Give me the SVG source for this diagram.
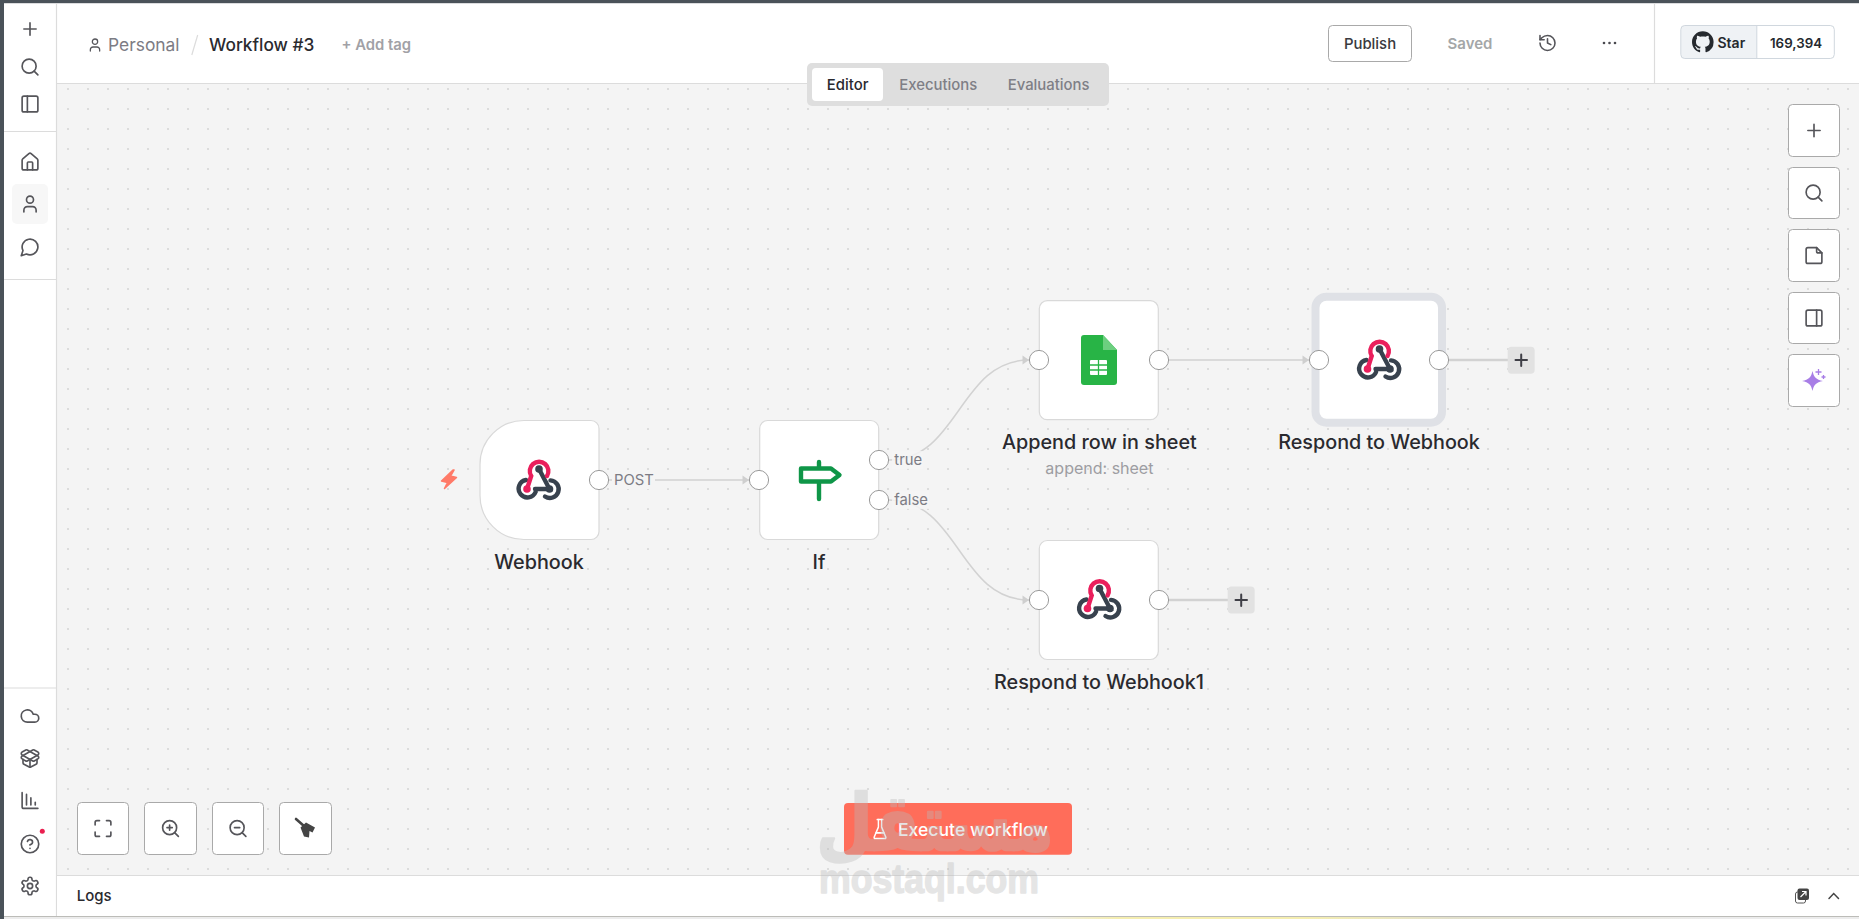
<svg xmlns="http://www.w3.org/2000/svg" width="1859" height="919" viewBox="0 0 1859 919">
<style>
text{font-family:Inter,"Noto Sans","Liberation Sans",sans-serif}
.ic{fill:none;stroke:#55555a;stroke-width:1.9;stroke-linecap:round;stroke-linejoin:round}
.sep{stroke:#dcdcdc;stroke-width:1.2;fill:none}
.tb{fill:#fff;stroke:#a9a9a9;stroke-width:1}
.node{fill:#fff;stroke:#d9d9d9;stroke-width:1.2}
.port{fill:#fff;stroke:#9a9a9a;stroke-width:1}
.lbl{font-size:19.8px;font-weight:500;fill:#2a2a2f;text-anchor:middle}
.tab{font-size:14.9px;font-weight:500;fill:#7f7f86}
.elbl{font-size:14.8px;fill:#7c7c84}
.edge{fill:none;stroke:#d2d2d2;stroke-width:1.5}
.stub{fill:none;stroke:#d2d2d2;stroke-width:2.4}
.addb{fill:#e2e2e2}
.addp{fill:none;stroke:#3f3f46;stroke-width:2;stroke-linecap:round}
.pk{fill:none;stroke:#ea1f5c;stroke-width:4.4;stroke-linecap:round}
.dk{fill:none;stroke:#38424e;stroke-width:4.4;stroke-linecap:round}
</style>
<defs>
<pattern id="dots" patternUnits="userSpaceOnUse" x="58" y="79" width="20" height="20"><circle cx="10" cy="10" r=".8" fill="#bcbcbc"/></pattern>
<linearGradient id="stripe" x1="0" x2="1" y1="0" y2="0"><stop offset="0" stop-color="#ececec"/><stop offset=".56" stop-color="#ececec"/><stop offset=".6" stop-color="#f5eeb0"/><stop offset=".7" stop-color="#f5eeb0"/><stop offset=".78" stop-color="#e2e0cc"/><stop offset=".92" stop-color="#ececec"/></linearGradient>
<marker id="arr" markerUnits="userSpaceOnUse" markerWidth="8" markerHeight="10" refX="7" refY="5" orient="auto"><path d="M0.5,0.5 L7,5 L0.5,9.5 Z" fill="#cfcfcf"/></marker>
<symbol id="i-plus" viewBox="0 0 24 24"><path class="ic" d="M5 12h14M12 5v14"/></symbol>
<symbol id="i-search" viewBox="0 0 24 24"><circle class="ic" cx="11" cy="11" r="8"/><path class="ic" d="M21 21l-4.3-4.3"/></symbol>
<symbol id="i-pl" viewBox="0 0 24 24"><rect class="ic" x="3" y="3" width="18" height="18" rx="2"/><path class="ic" d="M9 3v18"/></symbol>
<symbol id="i-pr" viewBox="0 0 24 24"><rect class="ic" x="3" y="3" width="18" height="18" rx="2"/><path class="ic" d="M15 3v18"/></symbol>
<symbol id="i-home" viewBox="0 0 24 24"><path class="ic" d="M15 21v-8a1 1 0 0 0-1-1h-4a1 1 0 0 0-1 1v8"/><path class="ic" d="M3 10a2 2 0 0 1 .709-1.528l7-5.999a2 2 0 0 1 2.582 0l7 5.999A2 2 0 0 1 21 10v9a2 2 0 0 1-2 2H5a2 2 0 0 1-2-2z"/></symbol>
<symbol id="i-user" viewBox="0 0 24 24"><path class="ic" d="M19 21v-2a4 4 0 0 0-4-4H9a4 4 0 0 0-4 4v2"/><circle class="ic" cx="12" cy="7" r="4"/></symbol>
<symbol id="i-chat" viewBox="0 0 24 24"><path class="ic" d="M7.9 20A9 9 0 1 0 4 16.1L2 22Z"/></symbol>
<symbol id="i-cloud" viewBox="0 0 24 24"><path class="ic" d="M17.5 19H9a7 7 0 1 1 6.71-9h1.79a4.5 4.5 0 1 1 0 9Z"/></symbol>
<symbol id="i-box" viewBox="0 0 24 24"><path class="ic" d="M12 22v-9"/><path class="ic" d="M15.17 2.21a1.67 1.67 0 0 1 1.63 0L21 4.57a1.93 1.93 0 0 1 0 3.36L8.82 14.79a1.655 1.655 0 0 1-1.64 0L3 12.43a1.93 1.93 0 0 1 0-3.36z"/><path class="ic" d="M20 13v3.87a2.06 2.06 0 0 1-1.11 1.83l-6 3.08a1.93 1.93 0 0 1-1.78 0l-6-3.08A2.06 2.06 0 0 1 4 16.87V13"/><path class="ic" d="M21 12.43a1.93 1.93 0 0 0 0-3.36L8.83 2.2a1.64 1.64 0 0 0-1.63 0L3 4.57a1.93 1.93 0 0 0 0 3.36l12.18 6.86a1.636 1.636 0 0 0 1.63 0z"/></symbol>
<symbol id="i-chart" viewBox="0 0 24 24"><path class="ic" d="M3 3v16a2 2 0 0 0 2 2h16M8 17V5M13 17V9M18 17v-3"/></symbol>
<symbol id="i-help" viewBox="0 0 24 24"><circle class="ic" cx="12" cy="12" r="10"/><path class="ic" d="M9.09 9a3 3 0 0 1 5.83 1c0 2-3 3-3 3M12 17h.01"/></symbol>
<symbol id="i-gear" viewBox="0 0 24 24"><path class="ic" d="M12.22 2h-.44a2 2 0 0 0-2 2v.18a2 2 0 0 1-1 1.73l-.43.25a2 2 0 0 1-2 0l-.15-.08a2 2 0 0 0-2.73.73l-.22.38a2 2 0 0 0 .73 2.73l.15.1a2 2 0 0 1 1 1.72v.51a2 2 0 0 1-1 1.74l-.15.09a2 2 0 0 0-.73 2.73l.22.38a2 2 0 0 0 2.73.73l.15-.08a2 2 0 0 1 2 0l.43.25a2 2 0 0 1 1 1.73V20a2 2 0 0 0 2 2h.44a2 2 0 0 0 2-2v-.18a2 2 0 0 1 1-1.73l.43-.25a2 2 0 0 1 2 0l.15.08a2 2 0 0 0 2.73-.73l.22-.39a2 2 0 0 0-.73-2.73l-.15-.08a2 2 0 0 1-1-1.74v-.5a2 2 0 0 1 1-1.74l.15-.09a2 2 0 0 0 .73-2.73l-.22-.38a2 2 0 0 0-2.73-.73l-.15.08a2 2 0 0 1-2 0l-.43-.25a2 2 0 0 1-1-1.73V4a2 2 0 0 0-2-2z"/><circle class="ic" cx="12" cy="12" r="3"/></symbol>
<symbol id="i-hist" viewBox="0 0 24 24"><path class="ic" d="M3 12a9 9 0 1 0 9-9 9.75 9.75 0 0 0-6.74 2.74L3 8"/><path class="ic" d="M3 3v5h5M12 7v5l4 2"/></symbol>
<symbol id="i-note" viewBox="0 0 24 24"><path class="ic" d="M15 3H5a2 2 0 0 0-2 2v14a2 2 0 0 0 2 2h14a2 2 0 0 0 2-2V9Z"/><path class="ic" d="M15 3v4a2 2 0 0 0 2 2h4"/></symbol>
<symbol id="i-max" viewBox="0 0 24 24"><path class="ic" d="M8 3H5a2 2 0 0 0-2 2v3M21 8V5a2 2 0 0 0-2-2h-3M3 16v3a2 2 0 0 0 2 2h3M16 21h3a2 2 0 0 0 2-2v-3"/></symbol>
<symbol id="i-zin" viewBox="0 0 24 24"><circle class="ic" cx="11" cy="11" r="8"/><path class="ic" d="M21 21l-4.3-4.3M11 8v6M8 11h6"/></symbol>
<symbol id="i-zout" viewBox="0 0 24 24"><circle class="ic" cx="11" cy="11" r="8"/><path class="ic" d="M21 21l-4.3-4.3M8 11h6"/></symbol>
<symbol id="i-hook" viewBox="-24 -24 48 48">
<path class="dk" d="M-13,0 A8.8,8.8 0 1 0 -3.4,12"/>
<path class="dk" d="M6,16.5 A8.8,8.8 0 1 0 11.5,0.4"/>
<path class="dk" d="M0,-11 L10.5,9 L-4,9"/>
<circle cx="0" cy="-11" r="3.8" fill="#38424e"/><circle cx="10.5" cy="9" r="3.8" fill="#38424e"/>
<path class="pk" d="M8,-4 A9.3,9.3 0 1 0 -7.8,-4 L-12,9"/>
<circle cx="-12" cy="9" r="3.8" fill="#ea1f5c"/>
</symbol>
</defs>

<rect width="1859" height="919" fill="#fff"/>
<g id="canvas"><rect x="57" y="84" width="1802" height="791" fill="#f4f4f4"/><rect x="57" y="84" width="1802" height="791" fill="url(#dots)"/></g>

<g id="window-edge"><rect x="0" y="0" width="1859" height="3.2" fill="#4a5259"/><rect x="0" y="0" width="4" height="919" fill="#4a5259"/><rect x="4" y="917" width="1855" height="2" fill="url(#stripe)"/><rect x="4" y="916" width="1855" height="1" fill="#bcbcb8"/></g>

<g id="sidebar">
<path class="sep" d="M56.500,3V916M4,131.500H56.500M4,279.500H56.500M4,688H56.500"/>
<rect x="12" y="184" width="36" height="40" rx="5" fill="#f7f7f7"/>
<use href="#i-plus" x="19.500" y="18.500" width="21" height="21"/>
<use href="#i-search" x="19.500" y="56.500" width="21" height="21"/>
<use href="#i-pl" x="19.500" y="93.500" width="21" height="21"/>
<use href="#i-home" x="19.500" y="151.500" width="21" height="21"/>
<use href="#i-user" x="19.500" y="193.500" width="21" height="21"/>
<use href="#i-chat" x="19.500" y="236.500" width="21" height="21"/>
<use href="#i-cloud" x="19.500" y="705.500" width="21" height="21"/>
<use href="#i-box" x="19.500" y="748" width="21" height="21"/>
<use href="#i-chart" x="19.500" y="790" width="21" height="21"/>
<use href="#i-help" x="19.500" y="833.500" width="21" height="21"/>
<circle cx="42.300" cy="831.300" r="2.500" fill="#ea1f4f"/>
<use href="#i-gear" x="19.500" y="875.500" width="21" height="21"/>
</g>

<g id="header">
<path class="sep" d="M57,83.500H1859M1654.500,3V83"/>
<use href="#i-user" x="87" y="37" width="16" height="16"/>
<text x="108" y="51" font-size="17.400" fill="#7c7c84">Personal</text>
<path d="M197.700,35L191.800,55" stroke="#dcdcdc" stroke-width="1.200"/>
<text x="209" y="51" font-size="17.300" font-weight="500" fill="#2a2a2f">Workflow #3</text>
<text x="341.500" y="50" font-size="14.800" font-weight="600" fill="#a1a1a6">+ Add tag</text>
<rect class="tb" x="1328.500" y="25.500" width="83" height="36" rx="4"/>
<text x="1370" y="49" font-size="14.900" font-weight="500" fill="#3a3a40" text-anchor="middle">Publish</text>
<text x="1470" y="49" font-size="15" font-weight="600" fill="#a4a7a8" text-anchor="middle">Saved</text>
<use href="#i-hist" x="1537.500" y="33" width="20" height="20"/>
<g fill="#4a4a4f"><circle cx="1604" cy="43" r="1.300"/><circle cx="1609.500" cy="43" r="1.300"/><circle cx="1615" cy="43" r="1.300"/></g>
<g id="github-star">
<path d="M1756.800,25.500H1685a4,4 0 0 0 -4,4V54.500a4,4 0 0 0 4,4H1756.800Z" fill="#eff2f5"/>
<rect x="1680.800" y="25.500" width="153.500" height="33" rx="4" fill="none" stroke="#d0d7de"/>
<path d="M1756.800,25.500V58.500" stroke="#d0d7de"/>
<path transform="translate(1692,31.200) scale(1.350)" fill="#25292e" d="M8 0C3.58 0 0 3.58 0 8c0 3.54 2.29 6.53 5.47 7.59.4.07.55-.17.55-.38 0-.19-.01-.82-.01-1.49-2.01.37-2.53-.49-2.69-.94-.09-.23-.48-.94-.82-1.13-.28-.15-.68-.52-.01-.53.63-.01 1.08.58 1.23.82.72 1.21 1.87.87 2.33.66.07-.52.28-.87.51-1.07-1.78-.2-3.64-.89-3.64-3.95 0-.87.31-1.59.82-2.15-.08-.2-.36-1.02.08-2.12 0 0 .67-.21 2.2.82.64-.18 1.32-.27 2-.27.68 0 1.36.09 2 .27 1.53-1.04 2.2-.82 2.2-.82.44 1.1.16 1.92.08 2.12.51.56.82 1.27.82 2.15 0 3.07-1.87 3.75-3.65 3.95.29.25.54.73.54 1.48 0 1.07-.01 1.93-.01 2.2 0 .21.15.46.55.38A8.013 8.013 0 0016 8c0-4.42-3.58-8-8-8z"/>
<text x="1717.500" y="47.500" font-size="14" font-weight="600" fill="#25292e">Star</text>
<text x="1796" y="47.500" font-size="13.300" font-weight="600" fill="#25292e" text-anchor="middle">169,394</text>
</g>
</g>

<g id="tabs">
<rect x="807" y="63" width="302" height="43" rx="5" fill="#dedede"/>
<rect x="812" y="68" width="71" height="33" rx="4" fill="#fff"/>
<text class="tab" x="826.800" y="90" style="fill:#2a2a2f">Editor</text>
<text class="tab" x="899.300" y="90">Executions</text>
<text class="tab" x="1007.700" y="90">Evaluations</text>
</g>

<g id="connectors">
<path id="e-post" class="edge" marker-end="url(#arr)" d="M609,480H749"/>
<path id="e-true" class="edge" marker-end="url(#arr)" d="M889,460C959,460 959,360 1029,360"/>
<path id="e-false" class="edge" marker-end="url(#arr)" d="M889,500C959,500 959,600 1029,600"/>
<path id="e-sheet" class="edge" marker-end="url(#arr)" d="M1169,360H1309"/>
<path id="e-add1" class="stub" d="M1449,360H1508"/>
<path id="e-add2" class="stub" d="M1169,600H1228"/>
</g>

<g id="node-webhook">
<path class="node" d="M524,420.500H591a8,8 0 0 1 8,8V531.500a8,8 0 0 1 -8,8H524a44,44 0 0 1 -44,-44V464.500a44,44 0 0 1 44,-44Z"/>
<use href="#i-hook" x="515" y="456" width="48" height="48"/>
<path d="M453,470L441.500,481L447.500,482.500L444.500,488.500L456.500,477.500L450.500,476L454,470Z" fill="#ff7a68" stroke="#ff7a68" stroke-width="1.500" stroke-linejoin="round"/>
<circle class="port" cx="599" cy="480" r="9.600"/>
<rect x="612" y="471" width="43" height="18" fill="#f4f4f4"/>
<text class="elbl" x="614" y="485">POST</text>
<text class="lbl" x="539" y="568.500">Webhook</text>
</g>

<g id="node-if">
<rect class="node" x="759.700" y="420.500" width="119" height="119" rx="8"/>
<path fill="none" stroke="#0f9648" stroke-width="4.400" stroke-linecap="round" stroke-linejoin="round" d="M819,462V468M819,483V499M801,468.500H831L839.500,475L831,481.500H801Z"/>
<circle class="port" cx="759" cy="480" r="9.600"/>
<circle class="port" cx="879" cy="460" r="9.600"/>
<circle class="port" cx="879" cy="500" r="9.600"/>
<rect x="892" y="451" width="31" height="18" fill="#f4f4f4" fill-opacity=".85"/>
<rect x="892" y="491" width="37" height="18" fill="#f4f4f4" fill-opacity=".85"/>
<text class="elbl" x="894.300" y="465">true</text>
<text class="elbl" x="894.300" y="505">false</text>
<text class="lbl" x="819" y="568.500">If</text>
</g>

<g id="node-sheet">
<rect class="node" x="1039.300" y="300.700" width="119" height="119" rx="8"/>
<path d="M1084,335H1103L1117,350V382a3,3 0 0 1 -3,3H1084a3,3 0 0 1 -3,-3V338a3,3 0 0 1 3,-3Z" fill="#28b446"/>
<path d="M1103,335L1117,350H1103Z" fill="#6ccf7f"/>
<rect x="1090" y="360" width="17" height="15" rx="1" fill="#fff"/>
<path d="M1090,365H1107M1090,370H1107M1098.500,360V375" stroke="#28b446" stroke-width="1.300"/>
<circle class="port" cx="1039" cy="360" r="9.600"/>
<circle class="port" cx="1159" cy="360" r="9.600"/>
<text class="lbl" x="1099.400" y="448.500">Append row in sheet</text>
<text x="1099.400" y="474" font-size="16" fill="#9d9da2" text-anchor="middle">append: sheet</text>
</g>

<g id="node-respond">
<rect x="1315.500" y="296.700" width="126.500" height="126" rx="11" fill="#fff" stroke="#dfe1e6" stroke-width="8"/>
<use href="#i-hook" x="1355.500" y="336" width="48" height="48"/>
<circle class="port" cx="1319" cy="360" r="9.600"/>
<circle class="port" cx="1439" cy="360" r="9.600"/>
<text class="lbl" x="1379" y="448.500">Respond to Webhook</text>
</g>
<g id="add-respond">
<rect class="addb" x="1507.700" y="346.700" width="27" height="27" rx="4"/>
<path class="addp" d="M1515.500,360H1527M1521.200,354.500V366"/>
</g>

<g id="node-respond1">
<rect class="node" x="1039.300" y="540.500" width="119" height="119" rx="8"/>
<use href="#i-hook" x="1075.500" y="575.500" width="48" height="48"/>
<circle class="port" cx="1039" cy="600" r="9.600"/>
<circle class="port" cx="1159" cy="600" r="9.600"/>
<text class="lbl" x="1099" y="688.500">Respond to Webhook1</text>
</g>
<g id="add-respond1">
<rect class="addb" x="1227.700" y="586.500" width="27" height="27" rx="4"/>
<path class="addp" d="M1235.500,600H1247M1241.200,594.500V606"/>
</g>

<g id="right-tools">
<rect class="tb" x="1788.500" y="104.500" width="51" height="52" rx="4"/><use href="#i-plus" x="1803.500" y="120" width="21" height="21"/>
<rect class="tb" x="1788.500" y="167.500" width="51" height="51" rx="4"/><use href="#i-search" x="1803.500" y="182.500" width="21" height="21"/>
<rect class="tb" x="1788.500" y="229.500" width="51" height="52" rx="4"/><use href="#i-note" x="1803.500" y="245" width="21" height="21"/>
<rect class="tb" x="1788.500" y="292.500" width="51" height="51" rx="4"/><use href="#i-pr" x="1803.500" y="307.500" width="21" height="21"/>
<rect class="tb" x="1788.500" y="354.500" width="51" height="52" rx="4"/>
<path d="M1812.500,371C1813.800,377 1816,379.500 1823,381C1816,382.500 1813.800,385 1812.500,391C1811.200,385 1809,382.500 1802,381C1809,379.500 1811.200,377 1812.500,371Z" fill="#a87ee6"/>
<path d="M1818.500,369V375M1815.500,372H1821.500M1823.500,375V379M1821.500,377H1825.500" stroke="#a87ee6" stroke-width="1.300"/>
</g>

<g id="canvas-tools">
<rect class="tb" x="77.500" y="802.500" width="51" height="52" rx="4"/><use href="#i-max" x="92.500" y="818" width="21" height="21"/>
<rect class="tb" x="144.500" y="802.500" width="52" height="52" rx="4"/><use href="#i-zin" x="160" y="818" width="21" height="21"/>
<rect class="tb" x="212.500" y="802.500" width="51" height="52" rx="4"/><use href="#i-zout" x="227.500" y="818" width="21" height="21"/>
<rect class="tb" x="279.500" y="802.500" width="52" height="52" rx="4"/>
<path d="M296,819L304,826" stroke="#444" stroke-width="2.600" stroke-linecap="round"/>
<path d="M300.500,827.500L306,822.500L315,827.500L312.500,832.500L309.500,831L309,837.500L304,836.500Z" fill="#444"/>
</g>

<g id="execute">
<rect x="844" y="803" width="228" height="51.700" rx="4" fill="#ff6d5a"/>
<g transform="translate(870.400,817.600) scale(.8,.95)" fill="none" stroke="#fff" stroke-width="1.800" stroke-linecap="round" stroke-linejoin="round"><path d="M10 2v7.527a2 2 0 0 1-.211.896L4.720 20.550a1 1 0 0 0 .9 1.450h12.760a1 1 0 0 0 .9-1.450l-5.069-10.127A2 2 0 0 1 14 9.527V2"/><path d="M8.500 2h7M7 16h10"/></g>
<text x="898" y="835.500" font-size="17.600" font-weight="500" fill="#fff">Execute workflow</text>
</g>

<g id="logs-bar">
<rect x="57" y="876" width="1802" height="40" fill="#fff"/>
<path class="sep" d="M57,875.500H1859"/>
<text x="76.700" y="901" font-size="15" font-weight="500" fill="#2a2a2f">Logs</text>
<rect x="1795.500" y="892" width="10" height="11" rx="2" fill="#fff" stroke="#555"/>
<rect x="1797.500" y="888.500" width="11.500" height="11.500" rx="2" fill="#444"/>
<path d="M1800.500,897L1806,891.500M1802,891.500H1806V895.500" stroke="#fff" stroke-width="1.200" fill="none"/>
<path d="M1829,898.500L1833.700,893.500L1838.500,898.500" fill="none" stroke="#444" stroke-width="1.500" stroke-linecap="round"/>
</g>

<g id="watermark" opacity=".37" fill="#bababa" stroke="#bababa" stroke-linejoin="round">
<text transform="translate(935,850) scale(1,1.200)" font-size="65" font-weight="700" text-anchor="middle" direction="rtl" stroke-width="2" style="font-family:'DejaVu Sans',sans-serif">مستقل</text>
<text x="929" y="893" font-size="41" font-weight="700" text-anchor="middle" stroke-width="1.500" textLength="220" lengthAdjust="spacingAndGlyphs" style="font-family:'Liberation Sans',sans-serif">mostaql.com</text>
</g>
</svg>
